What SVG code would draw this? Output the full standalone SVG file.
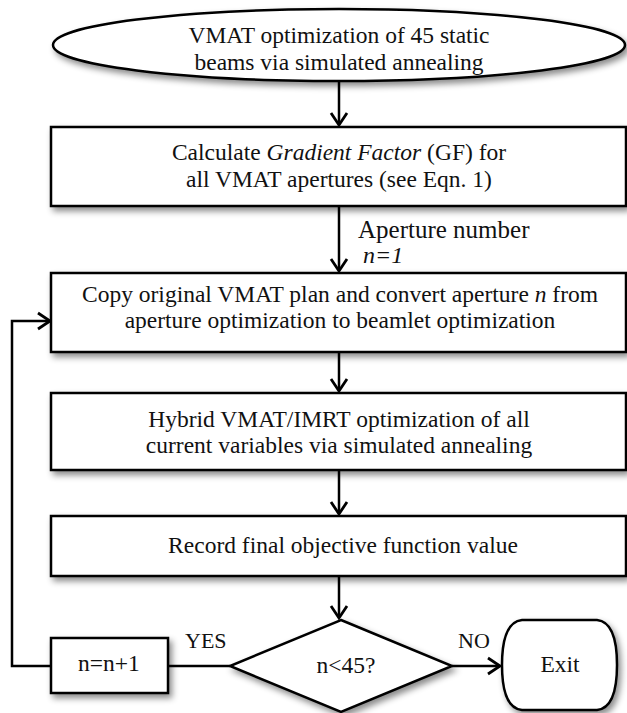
<svg xmlns="http://www.w3.org/2000/svg" width="627" height="713" viewBox="0 0 627 713">
<style>
.shape{fill:#fff;stroke:#000;stroke-width:2.5;filter:url(#sh)}
.t{font-family:"Liberation Serif","Times New Roman",serif;font-size:23.5px;fill:#111;text-anchor:middle}
.l{font-family:"Liberation Serif","Times New Roman",serif;font-size:22px;fill:#111}
.c{fill:none;stroke:#000;stroke-width:2.5}
</style>
<defs>
<filter id="sh" x="-10%" y="-20%" width="130%" height="160%">
<feDropShadow dx="3" dy="4" stdDeviation="3" flood-color="#000" flood-opacity="0.45"/>
</filter>
<marker id="ah" markerUnits="userSpaceOnUse" markerWidth="20" markerHeight="20" viewBox="-14 -10 16 20" refX="0" refY="0" orient="auto">
<path d="M-12,-8 L0,0 L-12,8" fill="none" stroke="#000" stroke-width="2.8"/>
</marker>
</defs>
<g id="connectors">
<line class="c" x1="339" y1="82" x2="339" y2="125" marker-end="url(#ah)"/>
<line class="c" x1="339" y1="207" x2="339" y2="271" marker-end="url(#ah)"/>
<line class="c" x1="339" y1="353" x2="339" y2="391" marker-end="url(#ah)"/>
<line class="c" x1="339" y1="471" x2="339" y2="514" marker-end="url(#ah)"/>
<line class="c" x1="339" y1="577" x2="339" y2="618" marker-end="url(#ah)"/>
<line class="c" x1="230" y1="666" x2="169" y2="666"/>
<line class="c" x1="452" y1="666" x2="500" y2="666" marker-end="url(#ah)"/>
<polyline class="c" points="51,666 12,666 12,321 50,321" marker-end="url(#ah)"/>
<text class="l" x="358" y="238" style="font-size:25px">Aperture number</text>
<text class="l" x="363" y="263" style="font-size:24px;font-style:italic">n=1</text>
<text class="l" x="185" y="648">YES</text>
<text class="l" x="458" y="648">NO</text>
</g>
<g id="start">
<ellipse class="shape" cx="339" cy="45" rx="286" ry="36"/>
<text class="t" x="339" y="43">VMAT optimization of 45 static</text>
<text class="t" x="339" y="70">beams via simulated annealing</text>
</g>
<g id="gf">
<rect class="shape" x="51" y="127" width="575" height="79"/>
<text class="t" x="339" y="160">Calculate <tspan font-style="italic">Gradient Factor</tspan> (GF) for</text>
<text class="t" x="339" y="187">all VMAT apertures (see Eqn. 1)</text>
</g>
<g id="copy">
<rect class="shape" x="51" y="273" width="575" height="79"/>
<text class="t" x="340" y="302">Copy original VMAT plan and convert aperture <tspan font-style="italic">n</tspan> from</text>
<text class="t" x="340" y="328">aperture optimization to beamlet optimization</text>
</g>
<g id="hybrid">
<rect class="shape" x="51" y="393" width="575" height="77"/>
<text class="t" x="339" y="427">Hybrid VMAT/IMRT optimization of all</text>
<text class="t" x="339" y="453">current variables via simulated annealing</text>
</g>
<g id="record">
<rect class="shape" x="51" y="516" width="575" height="60"/>
<text class="t" x="343" y="553">Record final objective function value</text>
</g>
<g id="decision">
<polygon class="shape" points="341,620 452,666 341,712 230,666"/>
<text class="t" x="346" y="673">n&lt;45?</text>
</g>
<g id="increment">
<rect class="shape" x="51" y="638" width="117" height="55"/>
<text class="t" x="109" y="671">n=n+1</text>
</g>
<g id="exit">
<path class="shape" d="M522,620 H597 Q617,622 617,665 Q617,708 597,710 H522 Q502,708 502,665 Q502,622 522,620 Z"/>
<text class="t" x="560" y="672">Exit</text>
</g>
</svg>
